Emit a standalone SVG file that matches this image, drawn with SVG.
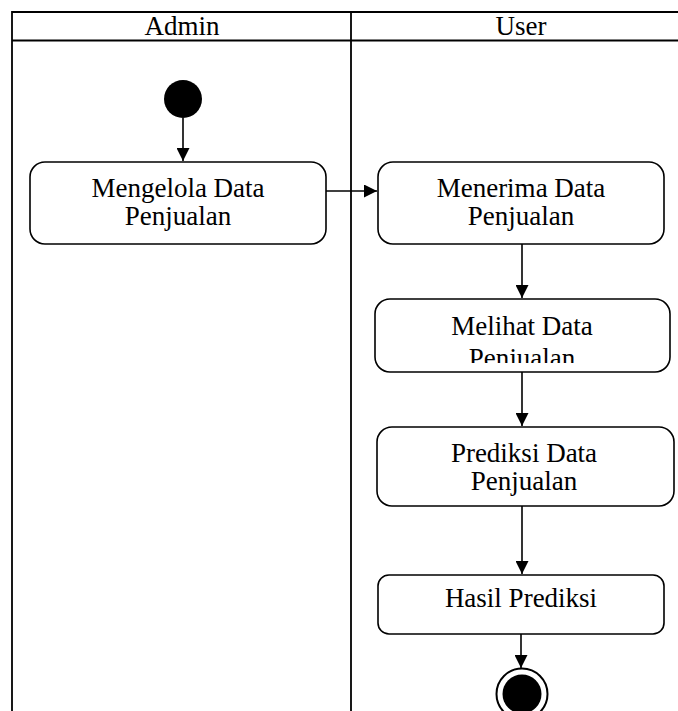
<svg xmlns="http://www.w3.org/2000/svg" width="678" height="711" viewBox="0 0 678 711">
<style>
.lane{fill:none;stroke:#000;stroke-width:1.8}
.act{fill:#fff;stroke:#000;stroke-width:1.6}
.t{font-family:"Liberation Serif","Times New Roman",serif;font-size:27px;fill:#000;text-anchor:middle}
.c{fill:none;stroke:#000;stroke-width:1.6}
</style>
<defs>
<marker id="ah" markerUnits="userSpaceOnUse" markerWidth="13" markerHeight="13" viewBox="0 0 12 12" refX="12" refY="6" orient="auto">
<path d="M0,0 L12,6 L0,12 Z" fill="#000"/>
</marker>
<clipPath id="clipMelihat"><rect x="370" y="295" width="310" height="68"/></clipPath>
</defs>
<g id="swimlanes">
<path class="lane" d="M12,711 V12 H678 M12,40.5 H678 M351,12 V711"/>
<text class="t" x="182" y="35">Admin</text>
<text class="t" x="521" y="35">User</text>
</g>
<g id="start"><circle cx="183" cy="99" r="19" fill="#000"/></g>
<g id="mengelola">
<rect class="act" x="30" y="162" width="296" height="82" rx="15"/>
<text class="t" x="178" y="197">Mengelola Data</text>
<text class="t" x="178" y="225">Penjualan</text>
</g>
<g id="menerima">
<rect class="act" x="378" y="162" width="286" height="82" rx="15"/>
<text class="t" x="521" y="197">Menerima Data</text>
<text class="t" x="521" y="225">Penjualan</text>
</g>
<g id="melihat">
<rect class="act" x="375" y="299" width="295" height="73" rx="15"/>
<text class="t" x="522" y="335">Melihat Data</text>
<text class="t" x="522" y="367" clip-path="url(#clipMelihat)">Penjualan</text>
</g>
<g id="prediksi">
<rect class="act" x="377" y="427" width="297" height="79" rx="15"/>
<text class="t" x="524" y="462">Prediksi Data</text>
<text class="t" x="524" y="490">Penjualan</text>
</g>
<g id="hasil">
<rect class="act" x="378" y="575" width="286" height="59" rx="11"/>
<text class="t" x="521" y="607">Hasil Prediksi</text>
</g>
<g id="end">
<circle cx="522" cy="694" r="25.5" fill="#fff" stroke="#000" stroke-width="2"/>
<circle cx="522" cy="694" r="19.5" fill="#000"/>
</g>
<g id="connectors">
<line class="c" x1="183" y1="118" x2="183" y2="161" marker-end="url(#ah)"/>
<line class="c" x1="326" y1="191" x2="377" y2="191" marker-end="url(#ah)"/>
<line class="c" x1="522" y1="244" x2="522" y2="298" marker-end="url(#ah)"/>
<line class="c" x1="522" y1="372" x2="522" y2="426" marker-end="url(#ah)"/>
<line class="c" x1="522" y1="506" x2="522" y2="574" marker-end="url(#ah)"/>
<line class="c" x1="521" y1="634" x2="521" y2="668" marker-end="url(#ah)"/>
</g>
</svg>
